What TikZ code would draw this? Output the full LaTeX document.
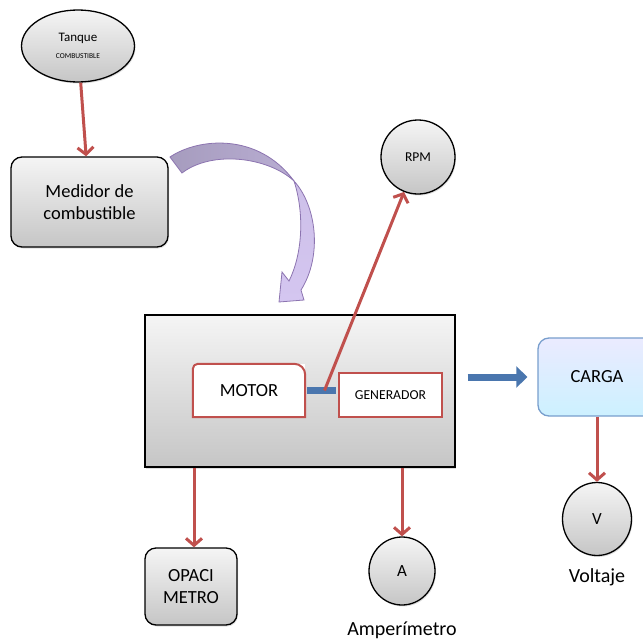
\documentclass[tikz,border=0pt]{standalone}
\usepackage{fontspec}
\setmainfont{Carlito}
\usetikzlibrary{arrows.meta,shapes.geometric,shadows}

\definecolor{flecha}{RGB}{192,80,77}
\definecolor{azul}{RGB}{74,118,174}
\definecolor{bordeazul}{RGB}{120,158,205}
\definecolor{lila}{RGB}{140,116,176}
\definecolor{lilaosc}{RGB}{166,156,190}
\definecolor{lilacla}{RGB}{212,198,240}

\tikzset{
  gris/.style={draw=black, line width=1.3pt, top color=gray!8, bottom color=gray!45,
    drop shadow={shadow xshift=1pt, shadow yshift=-1.5pt, opacity=0.25}},
  caja/.style={gris, rectangle, rounded corners=11pt, align=center},
  medida/.style={gris, ellipse, inner sep=0pt},
  interno/.style={draw=none, fill=white, minimum height=44pt},
  borde/.style={draw=flecha, line width=2pt},
  roja/.style={draw=flecha, line width=3pt, -{Straight Barb[length=7pt,width=16pt,line width=3pt]}},
  grande/.style={font=\fontsize{18.5}{22.5}\selectfont},
}

\begin{document}
\begin{tikzpicture}[x=1pt, y=-1pt]
  \useasboundingbox (0,0) rectangle (643,643);

  % tanque y medidor
  \node[medida, minimum width=113pt, minimum height=72pt, align=center, font=\fontsize{13}{15}\selectfont] (tanque) at (78,46)
    {Tanque\\[2pt]{\fontsize{7.5}{9}\selectfont COMBUSTIBLE}};
  \node[caja, grande, minimum width=157pt, minimum height=90pt] (medidor) at (89.5,202)
    {Medidor de\\combustible};
  \draw[roja] (tanque) -- (medidor);

  % flecha curva
  \draw[lila, line width=0.8pt, left color=lilaosc, right color=lilaosc!60!lilacla]
    (170,157) .. controls (198,138) and (258,132) .. (294,181)
    .. controls (268,157) and (212,150) .. (182,173) -- cycle;
  \draw[lila, line width=0.8pt, top color=lilacla!85!lilaosc, bottom color=lilacla]
    (294,181) .. controls (316,205) and (323,255) .. (301,290) -- (304,300) -- (279,302)
    -- (282,272) -- (289,281) .. controls (302,255) and (305,215) .. (294,181) -- cycle;

  % bloque principal
  \node[gris, rectangle, minimum width=310pt, minimum height=152pt] (bloque) at (300,391) {};
  \node[interno, grande, minimum width=112pt, minimum height=53pt] (motor) at (249,390.5) {MOTOR};
  \draw[borde] (motor.south west) [rounded corners=5pt] -- (motor.north west)
    [rounded corners=11pt] -- (motor.north east) [sharp corners] -- (motor.south east) -- cycle;
  \node[interno, borde, minimum width=103pt, font=\fontsize{13.7}{16}\selectfont] (gen) at (390.5,395) {GENERADOR};
  \draw[azul, line width=7pt] ([xshift=2pt]motor.east) -- coordinate[pos=0.6] (eje)
    ([xshift=-2pt]motor.east -| gen.west);

  % medidores
  \node[medida, circle, minimum size=74pt, font=\fontsize{13.5}{16}\selectfont] (rpm) at (418,157) {RPM};
  \draw[roja] (eje) -- (rpm);
  \node[caja, grande, minimum width=92pt, minimum height=77pt] (opaci) at (191,586.5) {OPACI\\METRO};
  \draw[roja] ([xshift=3pt]opaci.north |- bloque.south) -- ([xshift=3pt]opaci.north);
  \node[medida, minimum width=66pt, minimum height=68pt, font=\fontsize{17}{20}\selectfont] (amp) at (402,571) {A};
  \node[font=\fontsize{20}{24}\selectfont] (lamp) at (402,630) {Amperímetro};
  \draw[roja] (amp.north |- bloque.south) -- (amp);

  % carga
  \node[grande, rectangle, rounded corners=11pt, draw=bordeazul, line width=1.3pt,
    top color=blue!8, bottom color=blue!28!cyan!20, minimum width=118pt, minimum height=78pt] (carga) at (597,377) {CARGA};
  \draw[azul, line width=7pt, -{Triangle[length=11pt,width=21pt]}, shorten <=12pt, shorten >=10pt]
    (bloque.east |- carga.west) -- (carga.west);
  \node[medida, minimum width=69pt, minimum height=73pt, font=\fontsize{17}{20}\selectfont] (volt) at (597,519) {V};
  \node[font=\fontsize{20}{24}\selectfont] (lvolt) at (597,577) {Voltaje};
  \draw[roja] (carga) -- (volt);
\end{tikzpicture}
\end{document}
